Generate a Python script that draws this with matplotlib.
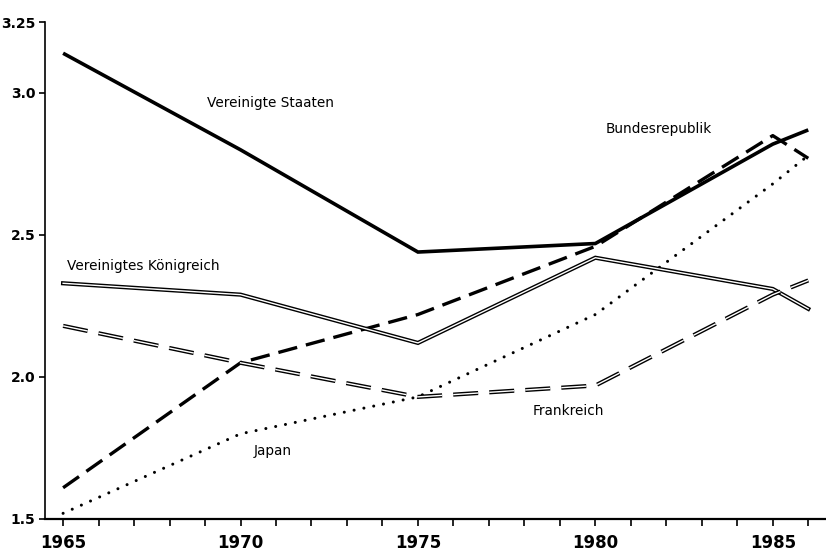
import matplotlib
matplotlib.use("Agg")
import matplotlib.pyplot as plt

plt.rcParams['font.family'] = ['DejaVu Sans']
plt.rcParams['lines.scale_dashes'] = False

years = [1965, 1970, 1975, 1980, 1985, 1986]
usa = [3.14, 2.80, 2.44, 2.47, 2.82, 2.87]
brd = [1.61, 2.05, 2.22, 2.46, 2.85, 2.77]
japan = [1.52, 1.80, 1.93, 2.22, 2.68, 2.78]
uk = [2.33, 2.29, 2.12, 2.42, 2.31, 2.24]
france = [2.18, 2.05, 1.93, 1.97, 2.29, 2.34]

xtick_years = [1965, 1970, 1975, 1980, 1985]
ytick_vals = [1.5, 2.0, 2.5, 3.0, 3.25]
ytick_labels = ['1.5', '2.0', '2.5', '3.0', '3.25']

W, H = 826, 552
fig = plt.figure(figsize=(W / 100, H / 100), dpi=100)
ax = fig.add_axes([45 / W, 33 / H, (826 - 45) / W, (519 - 22) / H])

# USA: thick solid
ax.plot(years, usa, color='black', lw=2.6, solid_capstyle='butt', solid_joinstyle='miter')
# Bundesrepublik: thick dashed
ax.plot(years, brd, color='black', lw=2.4, dashes=(14, 6.5), solid_joinstyle='miter')
# Japan: dotted
ax.plot(years, japan, color='black', lw=2.2, dashes=(0.01, 7.2), dash_capstyle='round')
# UK: double solid line
ax.plot(years, uk, color='black', lw=3.0, solid_joinstyle='miter')
ax.plot(years, uk, color='white', lw=1.0, solid_joinstyle='miter')
# France: double dashed line
ax.plot(years, france, color='black', lw=3.0, dashes=(18, 8), dash_capstyle='butt')
ax.plot(years, france, color='white', lw=1.0, dashes=(18, 8), dash_capstyle='butt')

ax.set_xlim(1964.49, 1986.5)
ax.set_ylim(1.5, 3.25)

for s in ['top', 'right']:
    ax.spines[s].set_visible(False)
ax.spines['left'].set_linewidth(1.2)
ax.spines['bottom'].set_linewidth(1.6)

ax.set_xticks(xtick_years)
ax.set_xticklabels([str(y) for y in xtick_years], fontsize=12, fontweight='bold')
ax.set_xticks(list(range(1965, 1987)), minor=True)
ax.tick_params(axis='x', which='both', direction='out', length=5, width=1.2, pad=6)
ax.set_yticks(ytick_vals)
ax.set_yticklabels(ytick_labels, fontsize=10, fontweight='bold')
ax.tick_params(axis='y', direction='out', length=4, width=1.2, pad=3)

lab_kw = dict(fontsize=9.8, color='black', ha='center', va='center')
ax.text(1970.85, 2.965, 'Vereinigte Staaten', **lab_kw)
ax.text(1981.8, 2.875, 'Bundesrepublik', **lab_kw)
ax.text(1967.25, 2.39, 'Vereinigtes Königreich', **lab_kw)
ax.text(1979.25, 1.88, 'Frankreich', **lab_kw)
ax.text(1970.9, 1.74, 'Japan', **lab_kw)

fig.savefig('out.png', dpi=100)
